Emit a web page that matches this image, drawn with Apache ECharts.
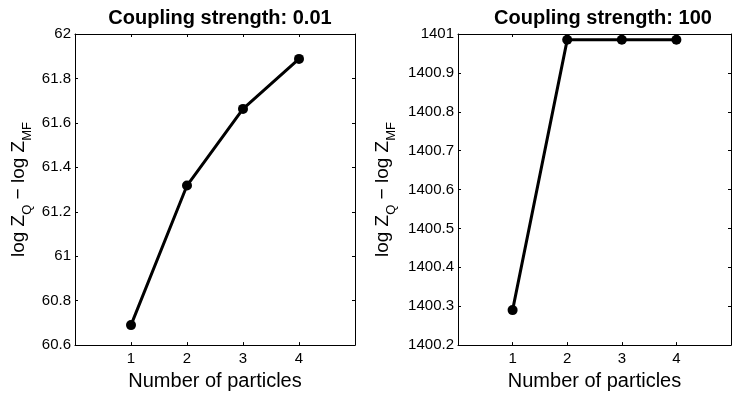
<!DOCTYPE html>
<html>
<head>
<meta charset="utf-8">
<script src="https://cdn.jsdelivr.net/npm/echarts@6/dist/echarts.min.js"></script>
<style>
  html, body { margin: 0; padding: 0; background: #fff; }
  #chartID { width: 734px; height: 396px; }
</style>
</head>
<body>
<div id="chartID"></div>
<script>
var particles = [1, 2, 3, 4];
var weakValues = [60.69, 61.318, 61.663, 61.888];     // coupling 0.01
var strongValues = [1400.29, 1400.985, 1400.985, 1400.985]; // coupling 100
var titles = ['Coupling strength: 0.01', 'Coupling strength: 100'];
var xTicks = [1, 2, 3, 4];

var chart = echarts.init(document.getElementById('chartID'));

var fontFam = '"Liberation Sans", Arial, sans-serif';

function pairs(ys) {
    return particles.map(function (x, i) { return [x, ys[i]]; });
}

function yFmt(v) {
    return String(Math.round(v * 10) / 10);
}

// y axis name with subscripts
var yName = '{n|log Z}{s|Q}{n| \u2212 log Z}{s|MF}';
var yRich = {
    n: { fontSize: 19, fontFamily: fontFam, color: '#000', lineHeight: 20, verticalAlign: 'top' },
    s: { fontSize: 13, fontFamily: fontFam, color: '#000', lineHeight: 13, padding: [12, 0, 0, 0], verticalAlign: 'top' }
};

function mainX(gi) {
    return {
        type: 'value', gridIndex: gi, min: 0, max: 5, interval: 1,
        name: 'Number of particles', nameLocation: 'middle', nameGap: 19,
        nameTextStyle: { fontSize: 20, fontFamily: fontFam, color: '#000' },
        axisLine: { onZero: false, lineStyle: { color: '#000', width: 1 } },
        axisTick: { inside: true, length: 3, lineStyle: { color: '#000' } },
        axisLabel: {
            fontSize: 15, fontFamily: fontFam, color: '#000', margin: 6,
            formatter: function (v) { return xTicks.indexOf(v) >= 0 ? String(v) : ''; }
        },
        splitLine: { show: false }
    };
}
function topX(gi) {
    return {
        type: 'value', gridIndex: gi, min: 0, max: 5, interval: 1, position: 'top',
        axisLine: { onZero: false, lineStyle: { color: '#000', width: 1 } },
        axisTick: { inside: true, length: 3, lineStyle: { color: '#000' } },
        axisLabel: { show: false }, splitLine: { show: false }
    };
}
function mainY(gi, min, max, step) {
    return {
        type: 'value', gridIndex: gi, min: min, max: max, interval: step,
        name: yName, nameLocation: 'middle', nameRotate: 90, nameGap: gi === 0 ? 46 : 65,
        nameTextStyle: { rich: yRich },
        axisLine: { show: true, onZero: false, lineStyle: { color: '#000', width: 1 } },
        axisTick: { show: true, inside: true, length: 3, lineStyle: { color: '#000' } },
        axisLabel: { fontSize: 15, fontFamily: fontFam, color: '#000', margin: 4, formatter: yFmt },
        splitLine: { show: false }
    };
}
function rightY(gi, min, max, step) {
    return {
        type: 'value', gridIndex: gi, min: min, max: max, interval: step, position: 'right',
        axisLine: { show: true, onZero: false, lineStyle: { color: '#000', width: 1 } },
        axisTick: { show: true, inside: true, length: 3, lineStyle: { color: '#000' } },
        axisLabel: { show: false }, splitLine: { show: false }
    };
}

function lineSeries(xi, yi, ys) {
    return {
        type: 'line', xAxisIndex: xi, yAxisIndex: yi, data: pairs(ys),
        symbol: 'circle', symbolSize: 10, showSymbol: true,
        lineStyle: { color: '#000', width: 3 },
        itemStyle: { color: '#000' },
        animation: false
    };
}

var option = {
    backgroundColor: '#fff',
    animation: false,
    title: [
        { text: titles[0], left: 215, top: 3, textAlign: 'center',
          textStyle: { fontSize: 20, fontWeight: 'bold', fontFamily: fontFam, color: '#000' } },
        { text: titles[1], left: 598, top: 3, textAlign: 'center',
          textStyle: { fontSize: 20, fontWeight: 'bold', fontFamily: fontFam, color: '#000' } }
    ],
    grid: [
        { left: 75, top: 34, width: 280, height: 320 },
        { left: 458, top: 34, width: 280, height: 320 }
    ],
    xAxis: [mainX(0), topX(0), mainX(1), topX(1)],
    yAxis: [
        mainY(0, 60.6, 62, 0.2), rightY(0, 60.6, 62, 0.2),
        mainY(1, 1400.2, 1401, 0.1), rightY(1, 1400.2, 1401, 0.1)
    ],
    series: [
        lineSeries(0, 0, weakValues),
        lineSeries(2, 2, strongValues)
    ]
};

chart.setOption(option);
</script>
</body>
</html>
